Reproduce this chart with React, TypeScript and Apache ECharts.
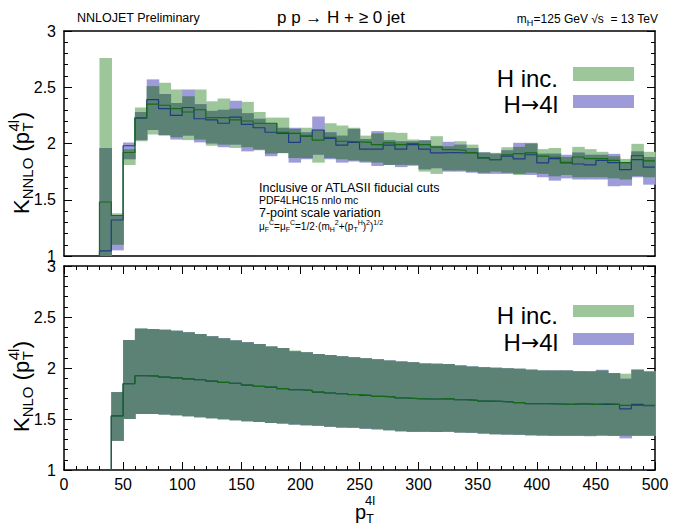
import React, { useEffect, useRef } from "react";
import * as echarts from "echarts";

// ---------- data: top panel (NNLO/NLO), bins of 10 GeV, lower edges ----------
const topBins = [30, 40, 50, 60, 70, 80, 90, 100, 110, 120, 130, 140, 150, 160, 170, 180, 190, 200, 210, 220, 230, 240, 250, 260, 270, 280, 290, 300, 310, 320, 330, 340, 350, 360, 370, 380, 390, 400, 410, 420, 430, 440, 450, 460, 470, 480, 490];
const incCTop = [1.48, 1.36, 1.92, 2.23, 2.35, 2.34, 2.31, 2.28, 2.30, 2.23, 2.23, 2.21, 2.20, 2.18, 2.18, 2.10, 2.09, 2.065, 2.03, 2.055, 2.02, 2.015, 2.01, 1.99, 2.005, 1.99, 2.0, 1.99, 1.967, 1.946, 1.94, 1.92, 1.872, 1.857, 1.90, 1.91, 1.917, 1.887, 1.878, 1.833, 1.88, 1.866, 1.866, 1.85, 1.83, 1.893, 1.845];
const incHiTop = [2.76, 1.38, 1.95, 2.32, 2.51, 2.54, 2.48, 2.42, 2.48, 2.375, 2.40, 2.31, 2.37, 2.28, 2.23, 2.23, 2.13, 2.14, 2.12, 2.18, 2.16, 2.14, 2.07, 2.09, 2.10, 2.095, 2.036, 2.03, 2.065, 1.976, 2.02, 1.99, 1.92, 1.917, 1.967, 1.97, 2.006, 1.95, 1.96, 1.88, 1.97, 1.95, 1.926, 1.887, 1.863, 1.997, 1.926];
const incLoTop = [0.95, 1.10, 1.81, 2.02, 2.08, 2.07, 2.056, 2.03, 2.035, 1.98, 1.99, 1.96, 1.967, 1.946, 1.91, 1.915, 1.87, 1.87, 1.83, 1.87, 1.86, 1.85, 1.84, 1.83, 1.81, 1.81, 1.80, 1.75, 1.73, 1.76, 1.76, 1.75, 1.74, 1.75, 1.74, 1.72, 1.74, 1.73, 1.708, 1.72, 1.70, 1.70, 1.70, 1.69, 1.68, 1.71, 1.70];
const h4lCTop = [1.045, 1.32, 1.98, 2.225, 2.39, 2.31, 2.25, 2.32, 2.22, 2.21, 2.18, 2.235, 2.17, 2.14, 2.10, 2.09, 2.01, 2.065, 2.12, 2.045, 1.985, 2.01, 1.95, 1.95, 1.985, 1.95, 1.99, 1.95, 1.917, 1.92, 1.917, 1.917, 1.872, 1.857, 1.887, 1.863, 1.90, 1.827, 1.865, 1.827, 1.818, 1.81, 1.85, 1.83, 1.768, 1.857, 1.79];
const h4lHiTop = [1.96, 1.365, 2.01, 2.28, 2.57, 2.44, 2.36, 2.48, 2.35, 2.29, 2.30, 2.38, 2.27, 2.22, 2.18, 2.14, 2.14, 2.10, 2.24, 2.10, 2.07, 2.13, 2.04, 2.11, 2.03, 2.02, 2.02, 2.027, 1.98, 2.015, 1.99, 1.96, 1.92, 1.91, 1.94, 2.006, 2.0, 1.91, 1.91, 1.90, 1.92, 1.90, 1.90, 1.908, 1.83, 1.93, 1.88];
const h4lLoTop = [0.95, 1.05, 1.86, 2.03, 2.12, 2.075, 2.035, 2.07, 2.01, 2.0, 1.967, 1.99, 1.93, 1.94, 1.887, 1.915, 1.83, 1.86, 1.90, 1.86, 1.83, 1.84, 1.83, 1.80, 1.81, 1.79, 1.81, 1.77, 1.78, 1.75, 1.75, 1.74, 1.73, 1.73, 1.73, 1.73, 1.72, 1.70, 1.67, 1.69, 1.68, 1.68, 1.68, 1.62, 1.625, 1.70, 1.634];

// ---------- data: bottom panel (NLO/LO) ----------
const botBins = [40, 50, 60, 70, 80, 90, 100, 110, 120, 130, 140, 150, 160, 170, 180, 190, 200, 210, 220, 230, 240, 250, 260, 270, 280, 290, 300, 310, 320, 330, 340, 350, 360, 370, 380, 390, 400, 410, 420, 430, 440, 450, 460, 470, 480, 490];
const incCBot = [1.53, 1.846, 1.924, 1.921, 1.911, 1.904, 1.894, 1.885, 1.872, 1.859, 1.849, 1.833, 1.820, 1.813, 1.797, 1.787, 1.781, 1.764, 1.755, 1.748, 1.738, 1.732, 1.722, 1.716, 1.706, 1.70, 1.696, 1.697, 1.699, 1.689, 1.683, 1.676, 1.673, 1.667, 1.660, 1.650, 1.650, 1.647, 1.644, 1.650, 1.644, 1.650, 1.644, 1.634, 1.634, 1.634];
const incHiBot = [1.764, 2.275, 2.389, 2.382, 2.376, 2.366, 2.350, 2.333, 2.311, 2.291, 2.275, 2.252, 2.236, 2.210, 2.197, 2.171, 2.154, 2.138, 2.128, 2.115, 2.106, 2.099, 2.086, 2.073, 2.063, 2.057, 2.045, 2.042, 2.038, 2.024, 2.015, 2.008, 2.002, 1.998, 1.992, 1.982, 1.976, 1.976, 1.976, 1.969, 1.966, 1.976, 1.950, 1.944, 1.982, 1.966];
const incLoBot = [1.286, 1.50, 1.55, 1.55, 1.543, 1.537, 1.527, 1.517, 1.507, 1.498, 1.488, 1.478, 1.47, 1.462, 1.455, 1.446, 1.439, 1.433, 1.423, 1.416, 1.413, 1.407, 1.40, 1.39, 1.381, 1.374, 1.374, 1.372, 1.374, 1.368, 1.364, 1.358, 1.351, 1.348, 1.345, 1.341, 1.338, 1.335, 1.335, 1.335, 1.335, 1.338, 1.335, 1.335, 1.335, 1.335];
const h4lCBot = [1.53, 1.846, 1.924, 1.921, 1.911, 1.904, 1.894, 1.885, 1.872, 1.859, 1.85, 1.833, 1.82, 1.813, 1.797, 1.787, 1.781, 1.764, 1.755, 1.748, 1.74, 1.732, 1.722, 1.716, 1.706, 1.70, 1.696, 1.697, 1.699, 1.689, 1.683, 1.676, 1.673, 1.667, 1.66, 1.65, 1.65, 1.647, 1.644, 1.65, 1.644, 1.644, 1.644, 1.60, 1.644, 1.63];
const h4lHiBot = [1.764, 2.275, 2.386, 2.382, 2.376, 2.366, 2.350, 2.333, 2.311, 2.291, 2.27, 2.252, 2.236, 2.21, 2.197, 2.165, 2.154, 2.138, 2.128, 2.115, 2.106, 2.095, 2.086, 2.073, 2.063, 2.06, 2.045, 2.042, 2.038, 2.024, 2.015, 2.01, 2.002, 1.998, 1.992, 1.985, 1.976, 1.976, 1.976, 1.969, 1.97, 1.982, 1.95, 1.895, 1.985, 1.966];
const h4lLoBot = [1.286, 1.50, 1.55, 1.55, 1.543, 1.537, 1.527, 1.517, 1.507, 1.498, 1.488, 1.478, 1.47, 1.462, 1.455, 1.446, 1.439, 1.433, 1.423, 1.416, 1.413, 1.403, 1.40, 1.39, 1.381, 1.372, 1.374, 1.372, 1.374, 1.368, 1.364, 1.358, 1.351, 1.348, 1.345, 1.341, 1.338, 1.335, 1.335, 1.335, 1.33, 1.338, 1.335, 1.31, 1.335, 1.335];

const xTicks = [0, 50, 100, 150, 200, 250, 300, 350, 400, 450, 500];
const yTicks = [1, 1.5, 2, 2.5, 3];

const BIN_W = 10;
const FONT = "'Liberation Sans', Arial, Helvetica, sans-serif";
const C_GREEN = "#9dc79b";
const C_PURPLE = "#9d9bd8";
const C_OVER = "#5c8275";
const C_GLINE = "#156b17";
const C_BLINE = "#1c3d80";

function bandData(bins: number[], gLo: number[], gHi: number[], pLo: number[], pHi: number[]) {
  return bins.map((b, i) => [b, b + BIN_W, gLo[i], gHi[i], pLo[i], pHi[i]]);
}
function stepData(bins: number[], vals: number[]) {
  const pts: number[][] = [[bins[0], 0]];
  bins.forEach((b, i) => pts.push([b, vals[i]]));
  pts.push([bins[bins.length - 1] + BIN_W, vals[vals.length - 1]]);
  return pts;
}

const Y_MIN = yTicks[0];
const Y_MAX = yTicks[yTicks.length - 1];

// layer: 0 = H inc. band, 1 = H->4l band, 2 = overlap of both
function makeBandRender(layer: number) {
  return (params: any, api: any) => {
    const x0 = api.value(0);
    const x1 = api.value(1);
    const cl = (v: number) => Math.max(Y_MIN, Math.min(Y_MAX, v));
    const gLo = cl(api.value(2)), gHi = cl(api.value(3)), pLo = cl(api.value(4)), pHi = cl(api.value(5));
    let lo = gLo, hi = gHi, color = C_GREEN;
    if (layer === 1) { lo = pLo; hi = pHi; color = C_PURPLE; }
    if (layer === 2) { lo = Math.max(gLo, pLo); hi = Math.min(gHi, pHi); color = C_OVER; }
    if (!(hi > lo)) return { type: "group", children: [] };
    const p0 = api.coord([x0, hi]);
    const p1 = api.coord([x1, lo]);
    return {
      type: "rect",
      shape: { x: p0[0], y: p0[1], width: p1[0] - p0[0] + 0.7, height: p1[1] - p0[1] },
      style: { fill: color },
    };
  };
}

const AX_LINE = { show: true, onZero: false, lineStyle: { color: "#000", width: 1.5 } };

function xAx(gridIndex: number, position: string, ticks: boolean, labels: boolean) {
  return {
    type: "value", gridIndex, position, min: xTicks[0], max: xTicks[xTicks.length - 1], interval: xTicks[1] - xTicks[0],
    axisLine: AX_LINE,
    axisTick: { show: ticks, inside: true, length: 8, lineStyle: { color: "#000", width: 1 } },
    minorTick: { show: ticks, splitNumber: 5, length: 4, lineStyle: { color: "#000", width: 1 } },
    axisLabel: { show: labels, fontSize: 16, fontFamily: FONT, color: "#000", margin: 6 },
    splitLine: { show: false }, minorSplitLine: { show: false },
  };
}
function yAx(gridIndex: number, position: string, labels: boolean) {
  return {
    type: "value", gridIndex, position, min: Y_MIN, max: Y_MAX, interval: yTicks[1] - yTicks[0],
    axisLine: AX_LINE,
    axisTick: { show: true, inside: true, length: 8, lineStyle: { color: "#000", width: 1 } },
    minorTick: { show: true, splitNumber: 5, length: 4, lineStyle: { color: "#000", width: 1 } },
    axisLabel: { show: labels, fontSize: 16, fontFamily: FONT, color: "#000", margin: 8 },
    splitLine: { show: false }, minorSplitLine: { show: false },
  };
}

function txt(x: number, y: number, text: string, size: number, align = "left", extra: any = {}) {
  return {
    type: "text", x, y, z: 100,
    style: {
      text, font: `${size}px ${FONT}`, fill: "#000",
      align, verticalAlign: "middle", textAlign: align, textVerticalAlign: "middle", ...extra,
    },
  };
}

function legendText(x: number, y: number) {
  return {
    type: "text", x, y, z: 100,
    style: {
      text: "{n|H}{a|\u2192}{n|4l}", fill: "#000",
      align: "right", verticalAlign: "middle", textAlign: "right", textVerticalAlign: "middle",
      rich: {
        n: { fontSize: 24, fontFamily: FONT, lineHeight: 28 },
        a: { fontSize: 22, fontFamily: "'DejaVu Sans', sans-serif", lineHeight: 28 },
      },
    },
  };
}

// rotated y axis title "K_sub (p_T^4l)"
function rotTitle(cx: number, yStart: number, sub: string, subW: number) {
  const M = 22, S = 15;
  const wK = 0.667 * M;
  const wPar = 1.167 * M;
  const wSup = 0.778 * S;
  const xSub = wK;
  const xPar = xSub + subW * S;
  const xT = xPar + wPar + 0.5;
  const xClose = xT + wSup + 0.5;
  const t = (x: number, y: number, s: string, size: number) => ({
    type: "text", x, y,
    style: { text: s, font: `${size}px ${FONT}`, fill: "#000", align: "left", verticalAlign: "middle", textAlign: "left", textVerticalAlign: "middle" },
  });
  return {
    type: "group", x: cx, y: yStart, rotation: Math.PI / 2, z: 100,
    children: [
      t(0, 0, "K", M),
      t(xSub, 6, sub, S),
      t(xPar, 0, " (p", M),
      t(xT, 6, "T", S),
      t(xT, -8, "4l", S),
      t(xClose, 0, ")", M),
    ],
  };
}

function bandSeries(xi: number, yi: number, data: number[][]) {
  return [0, 1, 2].map((layer) => ({
    type: "custom", xAxisIndex: xi, yAxisIndex: yi, renderItem: makeBandRender(layer), z: 2 + layer * 0.1,
    encode: { x: [0, 1], y: [2, 3, 4, 5] },
    data,
  }));
}

const option: any = {
  animation: false,
  backgroundColor: "#fff",
  grid: [
    { left: 64, top: 31, width: 591, height: 225 },
    { left: 64, top: 266, width: 591, height: 204 },
  ],
  xAxis: [xAx(0, "bottom", false, false), xAx(0, "top", false, false), xAx(1, "bottom", true, true), xAx(1, "top", true, false)],
  yAxis: [yAx(0, "left", true), yAx(0, "right", false), yAx(1, "left", true), yAx(1, "right", false)],
  series: [
    ...bandSeries(0, 0, bandData(topBins, incLoTop, incHiTop, h4lLoTop, h4lHiTop)),
    {
      type: "line", xAxisIndex: 0, yAxisIndex: 0, step: "end", symbol: "none", z: 4,
      lineStyle: { color: C_BLINE, width: 1.2 }, data: stepData(topBins, h4lCTop),
    },
    {
      type: "line", xAxisIndex: 0, yAxisIndex: 0, step: "end", symbol: "none", z: 5,
      lineStyle: { color: C_GLINE, width: 1.2 }, data: stepData(topBins, incCTop),
    },
    ...bandSeries(2, 2, bandData(botBins, incLoBot, incHiBot, h4lLoBot, h4lHiBot)),
    {
      type: "line", xAxisIndex: 2, yAxisIndex: 2, step: "end", symbol: "none", z: 4,
      lineStyle: { color: C_BLINE, width: 1.2 }, data: stepData(botBins, h4lCBot),
    },
    {
      type: "line", xAxisIndex: 2, yAxisIndex: 2, step: "end", symbol: "none", z: 5,
      lineStyle: { color: C_GLINE, width: 1.2 }, data: stepData(botBins, incCBot),
    },
  ],
  graphic: [
    txt(77, 18, "NNLOJET Preliminary", 12.5),
    txt(277, 17, "p p \u2192 H + \u2265 0 jet", 17),
    {
      type: "text", x: 658, y: 19, z: 100,
      style: {
        text: "{n|m}{s|H}{n|=125 GeV \u221As  = 13 TeV}", fill: "#000",
        align: "right", verticalAlign: "middle", textAlign: "right", textVerticalAlign: "middle",
        rich: {
          n: { fontSize: 12, fontFamily: FONT, lineHeight: 16 },
          s: { fontSize: 9, fontFamily: FONT, lineHeight: 8, verticalAlign: "bottom" },
        },
      },
    },
    txt(259, 188, "Inclusive or ATLASII fiducial cuts", 12.5),
    txt(259, 200, "PDF4LHC15 nnlo mc", 10.5),
    txt(259, 213, "7-point scale variation", 12.5),
    {
      type: "text", x: 259, y: 226, z: 100,
      style: {
        text: "{n|\u03BC}{b|F}{t|C}{n|=\u03BC}{b|F}{t|C}{n|=1/2\u00B7(m}{b|H}{t|2}{n|+(p}{b|T}{t|H}{n|)}{t|2}{n|)}{t|1/2}",
        fill: "#000", align: "left", verticalAlign: "middle", textAlign: "left", textVerticalAlign: "middle",
        rich: {
          n: { fontSize: 10, fontFamily: FONT, lineHeight: 14 },
          b: { fontSize: 7, fontFamily: FONT, lineHeight: 7, verticalAlign: "bottom" },
          t: { fontSize: 7, fontFamily: FONT, lineHeight: 7, verticalAlign: "top" },
        },
      },
    },
    // legends
    txt(558, 78, "H inc.", 24, "right"),
    legendText(558, 104),
    { type: "rect", z: 100, shape: { x: 573, y: 67, width: 61, height: 14 }, style: { fill: C_GREEN } },
    { type: "rect", z: 100, shape: { x: 573, y: 95, width: 61, height: 13 }, style: { fill: C_PURPLE } },
    txt(558, 315, "H inc.", 24, "right"),
    legendText(558, 342),
    { type: "rect", z: 100, shape: { x: 573, y: 305, width: 61, height: 12 }, style: { fill: C_GREEN } },
    { type: "rect", z: 100, shape: { x: 573, y: 333, width: 61, height: 12 }, style: { fill: C_PURPLE } },
    // axis titles
    rotTitle(21, 214, "NNLO", 2.778),
    rotTitle(21, 432, "NLO", 2.056),
    txt(355, 512, "p", 20),
    txt(366, 518, "T", 13),
    txt(365, 500, "4l", 13),
  ],
};

export default function App() {
  const ref = useRef<HTMLDivElement>(null);
  useEffect(() => {
    const chart = echarts.init(ref.current!, null, { renderer: "svg" });
    chart.setOption(option);
    return () => chart.dispose();
  }, []);
  return (
    <div
      ref={ref}
      style={{ position: "absolute", left: 0, top: 0, width: 675, height: 525, background: "#fff" }}
    />
  );
}
